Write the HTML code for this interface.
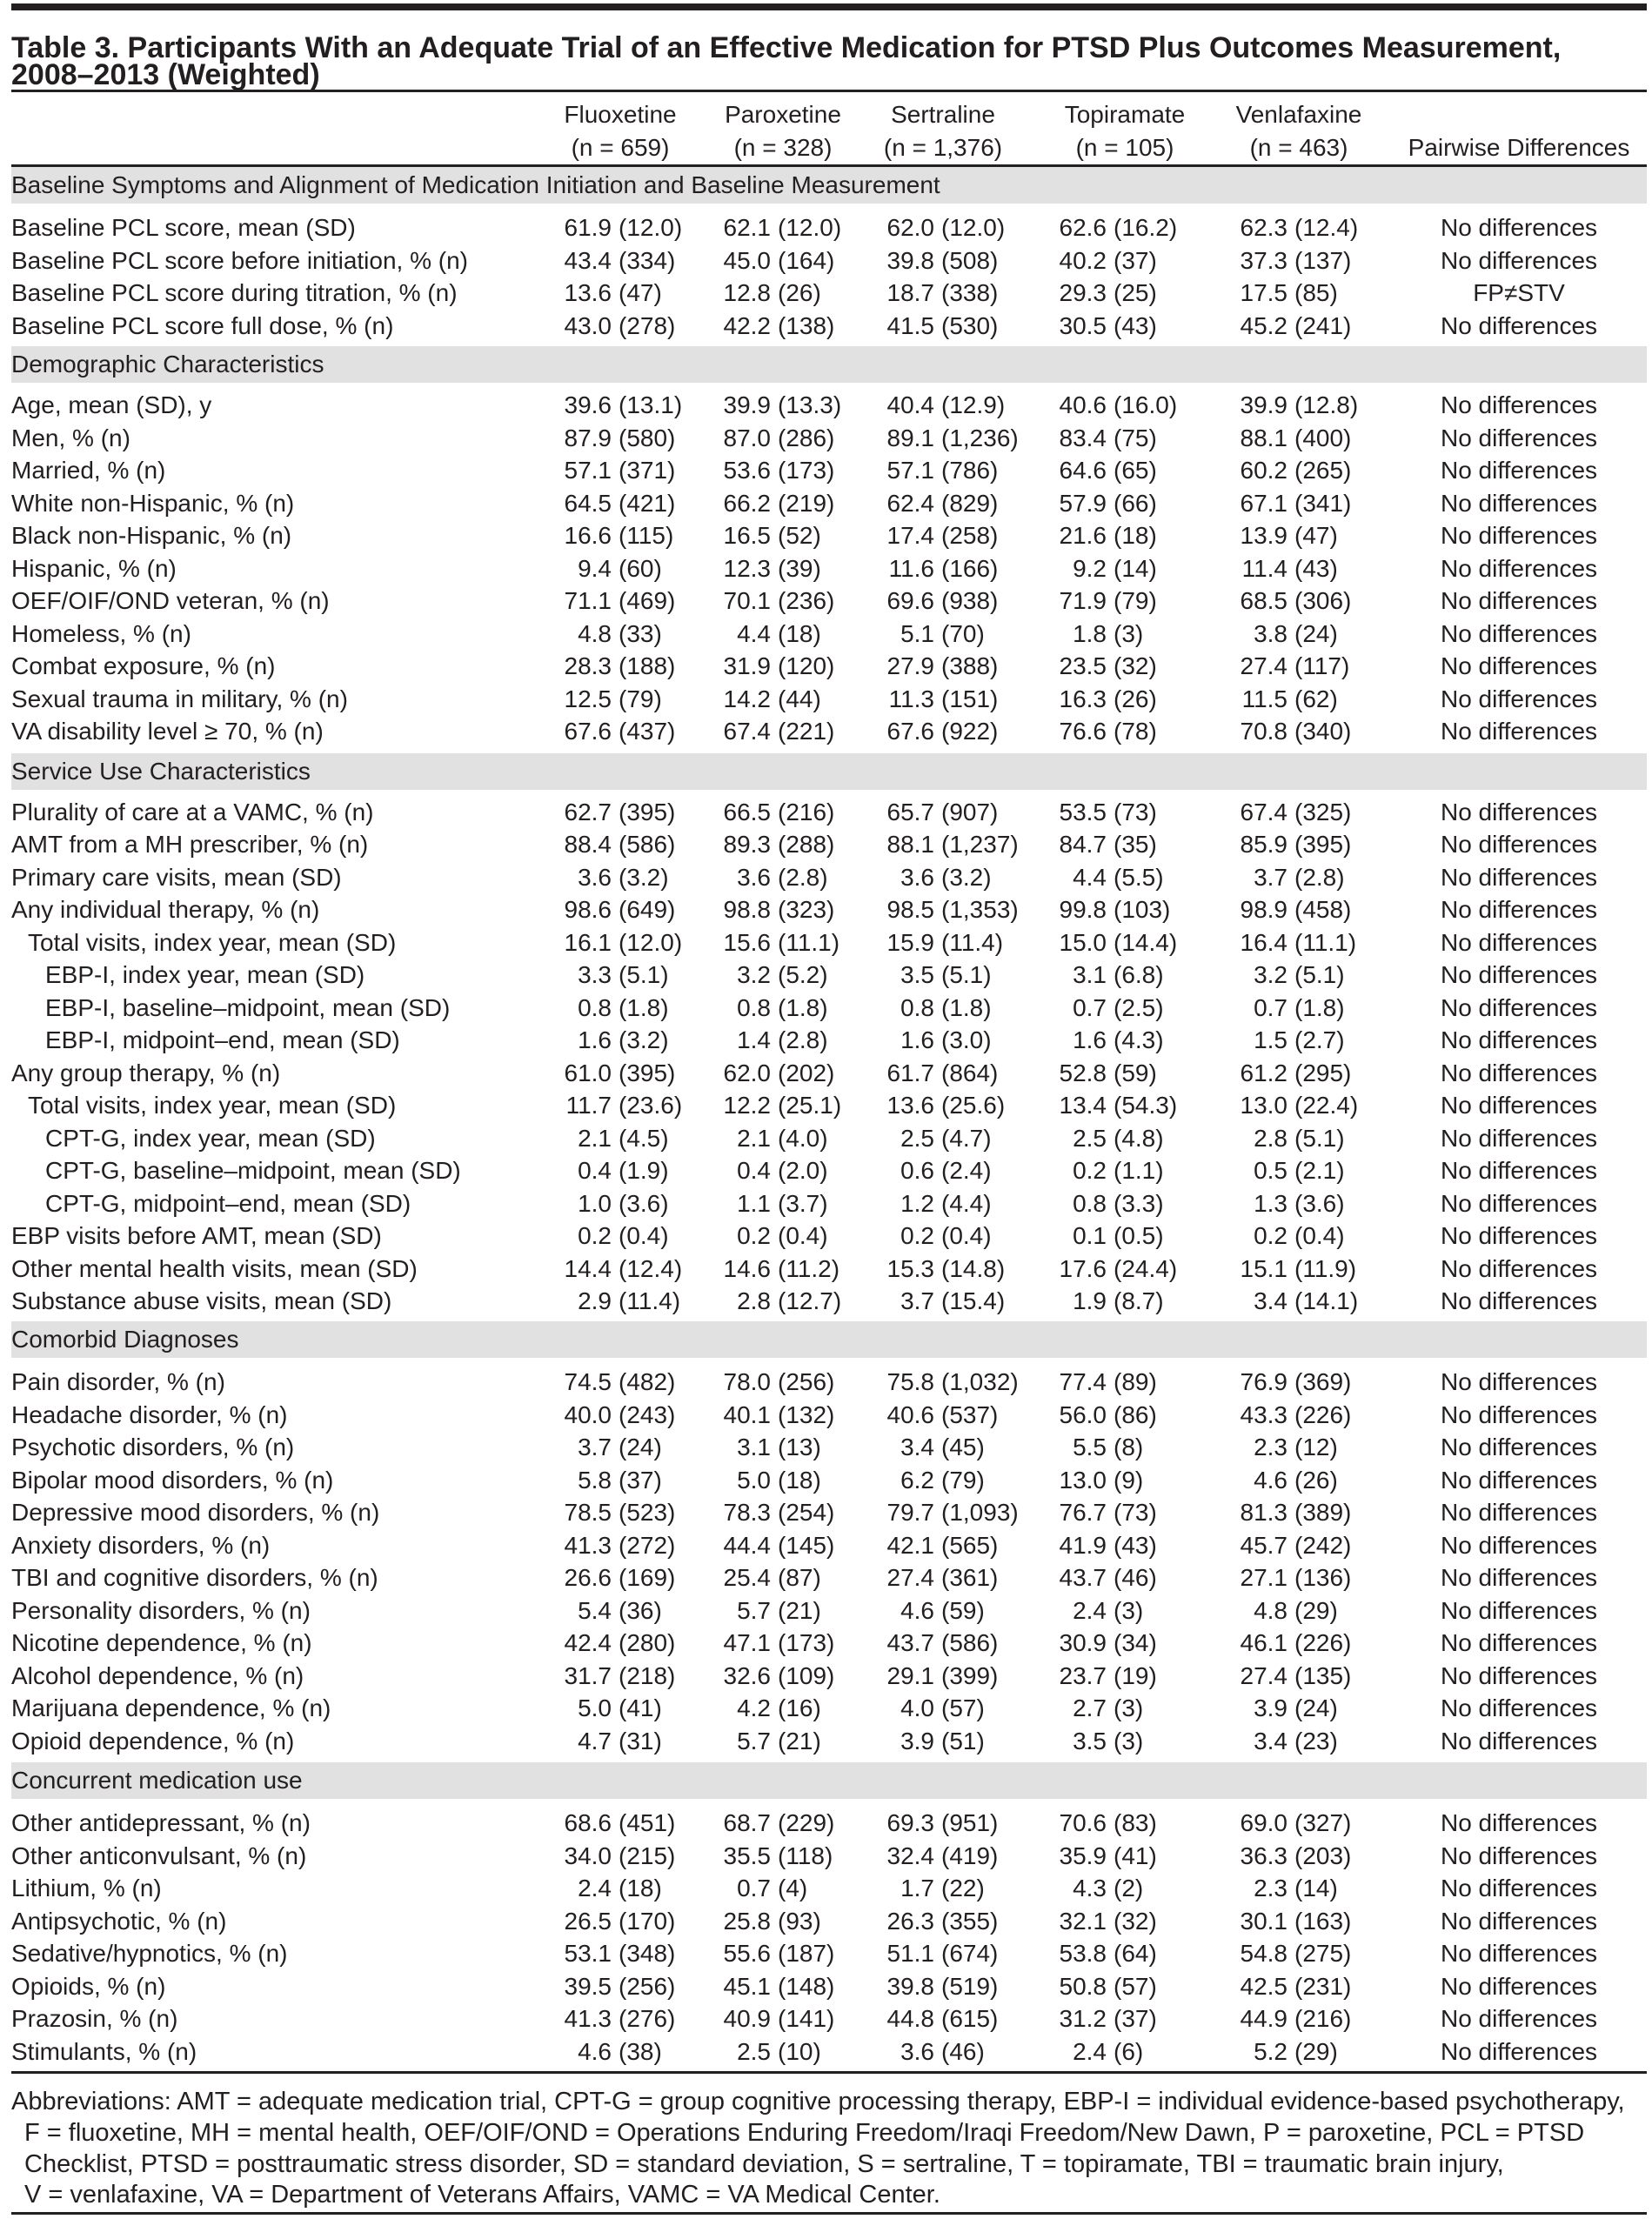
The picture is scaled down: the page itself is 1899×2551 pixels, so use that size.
<!DOCTYPE html>
<html><head><meta charset="utf-8"><style>
*{margin:0;padding:0;box-sizing:border-box}
body{width:1899px;height:2551px;background:#fff;position:relative;overflow:hidden;font-family:"Liberation Sans",sans-serif;color:#231f20;font-size:28px}
.t{position:absolute;left:13px;font-weight:bold;font-size:34px;line-height:36px;white-space:nowrap}
.rule{position:absolute;left:13px;width:1880px;background:#231f20}
.band{position:absolute;left:13px;width:1880px;height:42px;background:#e1e1e1;line-height:42px;white-space:nowrap}
.r{position:absolute;left:0;width:1899px;height:38px;line-height:38px}
.r span{position:absolute;white-space:nowrap;top:0}
.l{left:13px}.i1{left:32px}.i2{left:52px}
.n1{right:1196px}.p1{left:711px}
.n2{right:1013px}.p2{left:894px}
.n3{right:825px}.p3{left:1082px}
.n4{right:627px}.p4{left:1280px}
.n5{right:419px}.p5{left:1488px}
.d{left:1596px;width:300px;text-align:center}
.h{position:absolute;height:38px;line-height:38px;text-align:center;width:300px;white-space:nowrap}
.f{position:absolute;left:13px;font-size:29px;line-height:36px;white-space:nowrap}
</style></head><body>
<div class="rule" style="top:4px;height:8px"></div>
<div class="t" style="top:37px">Table 3. Participants With an Adequate Trial of an Effective Medication for PTSD Plus Outcomes Measurement,</div>
<div class="t" style="top:68px">2008–2013 (Weighted)</div>
<div class="rule" style="top:103px;height:3px"></div>
<div class="h" style="left:563px;top:113px">Fluoxetine</div><div class="h" style="left:563px;top:151px">(n = 659)</div>
<div class="h" style="left:750px;top:113px">Paroxetine</div><div class="h" style="left:750px;top:151px">(n = 328)</div>
<div class="h" style="left:934px;top:113px">Sertraline</div><div class="h" style="left:934px;top:151px">(n = 1,376)</div>
<div class="h" style="left:1143px;top:113px">Topiramate</div><div class="h" style="left:1143px;top:151px">(n = 105)</div>
<div class="h" style="left:1343px;top:113px">Venlafaxine</div><div class="h" style="left:1343px;top:151px">(n = 463)</div>
<div class="h" style="left:1596px;top:151px">Pairwise Differences</div>
<div class="rule" style="top:189px;height:3px"></div>

<div class="band" style="top:192px">Baseline Symptoms and Alignment of Medication Initiation and Baseline Measurement</div>
<div class="r" style="top:243px"><span class="l">Baseline PCL score, mean (SD)</span><span class="n1">61.9</span><span class="p1">(12.0)</span><span class="n2">62.1</span><span class="p2">(12.0)</span><span class="n3">62.0</span><span class="p3">(12.0)</span><span class="n4">62.6</span><span class="p4">(16.2)</span><span class="n5">62.3</span><span class="p5">(12.4)</span><span class="d">No differences</span></div>
<div class="r" style="top:281px"><span class="l">Baseline PCL score before initiation, % (n)</span><span class="n1">43.4</span><span class="p1">(334)</span><span class="n2">45.0</span><span class="p2">(164)</span><span class="n3">39.8</span><span class="p3">(508)</span><span class="n4">40.2</span><span class="p4">(37)</span><span class="n5">37.3</span><span class="p5">(137)</span><span class="d">No differences</span></div>
<div class="r" style="top:318px"><span class="l">Baseline PCL score during titration, % (n)</span><span class="n1">13.6</span><span class="p1">(47)</span><span class="n2">12.8</span><span class="p2">(26)</span><span class="n3">18.7</span><span class="p3">(338)</span><span class="n4">29.3</span><span class="p4">(25)</span><span class="n5">17.5</span><span class="p5">(85)</span><span class="d">FP≠STV</span></div>
<div class="r" style="top:356px"><span class="l">Baseline PCL score full dose, % (n)</span><span class="n1">43.0</span><span class="p1">(278)</span><span class="n2">42.2</span><span class="p2">(138)</span><span class="n3">41.5</span><span class="p3">(530)</span><span class="n4">30.5</span><span class="p4">(43)</span><span class="n5">45.2</span><span class="p5">(241)</span><span class="d">No differences</span></div>

<div class="band" style="top:398px">Demographic Characteristics</div>
<div class="r" style="top:447px"><span class="l">Age, mean (SD), y</span><span class="n1">39.6</span><span class="p1">(13.1)</span><span class="n2">39.9</span><span class="p2">(13.3)</span><span class="n3">40.4</span><span class="p3">(12.9)</span><span class="n4">40.6</span><span class="p4">(16.0)</span><span class="n5">39.9</span><span class="p5">(12.8)</span><span class="d">No differences</span></div>
<div class="r" style="top:485px"><span class="l">Men, % (n)</span><span class="n1">87.9</span><span class="p1">(580)</span><span class="n2">87.0</span><span class="p2">(286)</span><span class="n3">89.1</span><span class="p3">(1,236)</span><span class="n4">83.4</span><span class="p4">(75)</span><span class="n5">88.1</span><span class="p5">(400)</span><span class="d">No differences</span></div>
<div class="r" style="top:522px"><span class="l">Married, % (n)</span><span class="n1">57.1</span><span class="p1">(371)</span><span class="n2">53.6</span><span class="p2">(173)</span><span class="n3">57.1</span><span class="p3">(786)</span><span class="n4">64.6</span><span class="p4">(65)</span><span class="n5">60.2</span><span class="p5">(265)</span><span class="d">No differences</span></div>
<div class="r" style="top:560px"><span class="l">White non-Hispanic, % (n)</span><span class="n1">64.5</span><span class="p1">(421)</span><span class="n2">66.2</span><span class="p2">(219)</span><span class="n3">62.4</span><span class="p3">(829)</span><span class="n4">57.9</span><span class="p4">(66)</span><span class="n5">67.1</span><span class="p5">(341)</span><span class="d">No differences</span></div>
<div class="r" style="top:597px"><span class="l">Black non-Hispanic, % (n)</span><span class="n1">16.6</span><span class="p1">(115)</span><span class="n2">16.5</span><span class="p2">(52)</span><span class="n3">17.4</span><span class="p3">(258)</span><span class="n4">21.6</span><span class="p4">(18)</span><span class="n5">13.9</span><span class="p5">(47)</span><span class="d">No differences</span></div>
<div class="r" style="top:635px"><span class="l">Hispanic, % (n)</span><span class="n1">9.4</span><span class="p1">(60)</span><span class="n2">12.3</span><span class="p2">(39)</span><span class="n3">11.6</span><span class="p3">(166)</span><span class="n4">9.2</span><span class="p4">(14)</span><span class="n5">11.4</span><span class="p5">(43)</span><span class="d">No differences</span></div>
<div class="r" style="top:672px"><span class="l">OEF/OIF/OND veteran, % (n)</span><span class="n1">71.1</span><span class="p1">(469)</span><span class="n2">70.1</span><span class="p2">(236)</span><span class="n3">69.6</span><span class="p3">(938)</span><span class="n4">71.9</span><span class="p4">(79)</span><span class="n5">68.5</span><span class="p5">(306)</span><span class="d">No differences</span></div>
<div class="r" style="top:710px"><span class="l">Homeless, % (n)</span><span class="n1">4.8</span><span class="p1">(33)</span><span class="n2">4.4</span><span class="p2">(18)</span><span class="n3">5.1</span><span class="p3">(70)</span><span class="n4">1.8</span><span class="p4">(3)</span><span class="n5">3.8</span><span class="p5">(24)</span><span class="d">No differences</span></div>
<div class="r" style="top:747px"><span class="l">Combat exposure, % (n)</span><span class="n1">28.3</span><span class="p1">(188)</span><span class="n2">31.9</span><span class="p2">(120)</span><span class="n3">27.9</span><span class="p3">(388)</span><span class="n4">23.5</span><span class="p4">(32)</span><span class="n5">27.4</span><span class="p5">(117)</span><span class="d">No differences</span></div>
<div class="r" style="top:785px"><span class="l">Sexual trauma in military, % (n)</span><span class="n1">12.5</span><span class="p1">(79)</span><span class="n2">14.2</span><span class="p2">(44)</span><span class="n3">11.3</span><span class="p3">(151)</span><span class="n4">16.3</span><span class="p4">(26)</span><span class="n5">11.5</span><span class="p5">(62)</span><span class="d">No differences</span></div>
<div class="r" style="top:822px"><span class="l">VA disability level ≥ 70, % (n)</span><span class="n1">67.6</span><span class="p1">(437)</span><span class="n2">67.4</span><span class="p2">(221)</span><span class="n3">67.6</span><span class="p3">(922)</span><span class="n4">76.6</span><span class="p4">(78)</span><span class="n5">70.8</span><span class="p5">(340)</span><span class="d">No differences</span></div>

<div class="band" style="top:866px">Service Use Characteristics</div>
<div class="r" style="top:915px"><span class="l">Plurality of care at a VAMC, % (n)</span><span class="n1">62.7</span><span class="p1">(395)</span><span class="n2">66.5</span><span class="p2">(216)</span><span class="n3">65.7</span><span class="p3">(907)</span><span class="n4">53.5</span><span class="p4">(73)</span><span class="n5">67.4</span><span class="p5">(325)</span><span class="d">No differences</span></div>
<div class="r" style="top:952px"><span class="l">AMT from a MH prescriber, % (n)</span><span class="n1">88.4</span><span class="p1">(586)</span><span class="n2">89.3</span><span class="p2">(288)</span><span class="n3">88.1</span><span class="p3">(1,237)</span><span class="n4">84.7</span><span class="p4">(35)</span><span class="n5">85.9</span><span class="p5">(395)</span><span class="d">No differences</span></div>
<div class="r" style="top:990px"><span class="l">Primary care visits, mean (SD)</span><span class="n1">3.6</span><span class="p1">(3.2)</span><span class="n2">3.6</span><span class="p2">(2.8)</span><span class="n3">3.6</span><span class="p3">(3.2)</span><span class="n4">4.4</span><span class="p4">(5.5)</span><span class="n5">3.7</span><span class="p5">(2.8)</span><span class="d">No differences</span></div>
<div class="r" style="top:1027px"><span class="l">Any individual therapy, % (n)</span><span class="n1">98.6</span><span class="p1">(649)</span><span class="n2">98.8</span><span class="p2">(323)</span><span class="n3">98.5</span><span class="p3">(1,353)</span><span class="n4">99.8</span><span class="p4">(103)</span><span class="n5">98.9</span><span class="p5">(458)</span><span class="d">No differences</span></div>
<div class="r" style="top:1065px"><span class="i1">Total visits, index year, mean (SD)</span><span class="n1">16.1</span><span class="p1">(12.0)</span><span class="n2">15.6</span><span class="p2">(11.1)</span><span class="n3">15.9</span><span class="p3">(11.4)</span><span class="n4">15.0</span><span class="p4">(14.4)</span><span class="n5">16.4</span><span class="p5">(11.1)</span><span class="d">No differences</span></div>
<div class="r" style="top:1102px"><span class="i2">EBP-I, index year, mean (SD)</span><span class="n1">3.3</span><span class="p1">(5.1)</span><span class="n2">3.2</span><span class="p2">(5.2)</span><span class="n3">3.5</span><span class="p3">(5.1)</span><span class="n4">3.1</span><span class="p4">(6.8)</span><span class="n5">3.2</span><span class="p5">(5.1)</span><span class="d">No differences</span></div>
<div class="r" style="top:1140px"><span class="i2">EBP-I, baseline–midpoint, mean (SD)</span><span class="n1">0.8</span><span class="p1">(1.8)</span><span class="n2">0.8</span><span class="p2">(1.8)</span><span class="n3">0.8</span><span class="p3">(1.8)</span><span class="n4">0.7</span><span class="p4">(2.5)</span><span class="n5">0.7</span><span class="p5">(1.8)</span><span class="d">No differences</span></div>
<div class="r" style="top:1177px"><span class="i2">EBP-I, midpoint–end, mean (SD)</span><span class="n1">1.6</span><span class="p1">(3.2)</span><span class="n2">1.4</span><span class="p2">(2.8)</span><span class="n3">1.6</span><span class="p3">(3.0)</span><span class="n4">1.6</span><span class="p4">(4.3)</span><span class="n5">1.5</span><span class="p5">(2.7)</span><span class="d">No differences</span></div>
<div class="r" style="top:1215px"><span class="l">Any group therapy, % (n)</span><span class="n1">61.0</span><span class="p1">(395)</span><span class="n2">62.0</span><span class="p2">(202)</span><span class="n3">61.7</span><span class="p3">(864)</span><span class="n4">52.8</span><span class="p4">(59)</span><span class="n5">61.2</span><span class="p5">(295)</span><span class="d">No differences</span></div>
<div class="r" style="top:1252px"><span class="i1">Total visits, index year, mean (SD)</span><span class="n1">11.7</span><span class="p1">(23.6)</span><span class="n2">12.2</span><span class="p2">(25.1)</span><span class="n3">13.6</span><span class="p3">(25.6)</span><span class="n4">13.4</span><span class="p4">(54.3)</span><span class="n5">13.0</span><span class="p5">(22.4)</span><span class="d">No differences</span></div>
<div class="r" style="top:1290px"><span class="i2">CPT-G, index year, mean (SD)</span><span class="n1">2.1</span><span class="p1">(4.5)</span><span class="n2">2.1</span><span class="p2">(4.0)</span><span class="n3">2.5</span><span class="p3">(4.7)</span><span class="n4">2.5</span><span class="p4">(4.8)</span><span class="n5">2.8</span><span class="p5">(5.1)</span><span class="d">No differences</span></div>
<div class="r" style="top:1327px"><span class="i2">CPT-G, baseline–midpoint, mean (SD)</span><span class="n1">0.4</span><span class="p1">(1.9)</span><span class="n2">0.4</span><span class="p2">(2.0)</span><span class="n3">0.6</span><span class="p3">(2.4)</span><span class="n4">0.2</span><span class="p4">(1.1)</span><span class="n5">0.5</span><span class="p5">(2.1)</span><span class="d">No differences</span></div>
<div class="r" style="top:1365px"><span class="i2">CPT-G, midpoint–end, mean (SD)</span><span class="n1">1.0</span><span class="p1">(3.6)</span><span class="n2">1.1</span><span class="p2">(3.7)</span><span class="n3">1.2</span><span class="p3">(4.4)</span><span class="n4">0.8</span><span class="p4">(3.3)</span><span class="n5">1.3</span><span class="p5">(3.6)</span><span class="d">No differences</span></div>
<div class="r" style="top:1402px"><span class="l">EBP visits before AMT, mean (SD)</span><span class="n1">0.2</span><span class="p1">(0.4)</span><span class="n2">0.2</span><span class="p2">(0.4)</span><span class="n3">0.2</span><span class="p3">(0.4)</span><span class="n4">0.1</span><span class="p4">(0.5)</span><span class="n5">0.2</span><span class="p5">(0.4)</span><span class="d">No differences</span></div>
<div class="r" style="top:1440px"><span class="l">Other mental health visits, mean (SD)</span><span class="n1">14.4</span><span class="p1">(12.4)</span><span class="n2">14.6</span><span class="p2">(11.2)</span><span class="n3">15.3</span><span class="p3">(14.8)</span><span class="n4">17.6</span><span class="p4">(24.4)</span><span class="n5">15.1</span><span class="p5">(11.9)</span><span class="d">No differences</span></div>
<div class="r" style="top:1477px"><span class="l">Substance abuse visits, mean (SD)</span><span class="n1">2.9</span><span class="p1">(11.4)</span><span class="n2">2.8</span><span class="p2">(12.7)</span><span class="n3">3.7</span><span class="p3">(15.4)</span><span class="n4">1.9</span><span class="p4">(8.7)</span><span class="n5">3.4</span><span class="p5">(14.1)</span><span class="d">No differences</span></div>

<div class="band" style="top:1519px">Comorbid Diagnoses</div>
<div class="r" style="top:1570px"><span class="l">Pain disorder, % (n)</span><span class="n1">74.5</span><span class="p1">(482)</span><span class="n2">78.0</span><span class="p2">(256)</span><span class="n3">75.8</span><span class="p3">(1,032)</span><span class="n4">77.4</span><span class="p4">(89)</span><span class="n5">76.9</span><span class="p5">(369)</span><span class="d">No differences</span></div>
<div class="r" style="top:1608px"><span class="l">Headache disorder, % (n)</span><span class="n1">40.0</span><span class="p1">(243)</span><span class="n2">40.1</span><span class="p2">(132)</span><span class="n3">40.6</span><span class="p3">(537)</span><span class="n4">56.0</span><span class="p4">(86)</span><span class="n5">43.3</span><span class="p5">(226)</span><span class="d">No differences</span></div>
<div class="r" style="top:1645px"><span class="l">Psychotic disorders, % (n)</span><span class="n1">3.7</span><span class="p1">(24)</span><span class="n2">3.1</span><span class="p2">(13)</span><span class="n3">3.4</span><span class="p3">(45)</span><span class="n4">5.5</span><span class="p4">(8)</span><span class="n5">2.3</span><span class="p5">(12)</span><span class="d">No differences</span></div>
<div class="r" style="top:1683px"><span class="l">Bipolar mood disorders, % (n)</span><span class="n1">5.8</span><span class="p1">(37)</span><span class="n2">5.0</span><span class="p2">(18)</span><span class="n3">6.2</span><span class="p3">(79)</span><span class="n4">13.0</span><span class="p4">(9)</span><span class="n5">4.6</span><span class="p5">(26)</span><span class="d">No differences</span></div>
<div class="r" style="top:1720px"><span class="l">Depressive mood disorders, % (n)</span><span class="n1">78.5</span><span class="p1">(523)</span><span class="n2">78.3</span><span class="p2">(254)</span><span class="n3">79.7</span><span class="p3">(1,093)</span><span class="n4">76.7</span><span class="p4">(73)</span><span class="n5">81.3</span><span class="p5">(389)</span><span class="d">No differences</span></div>
<div class="r" style="top:1758px"><span class="l">Anxiety disorders, % (n)</span><span class="n1">41.3</span><span class="p1">(272)</span><span class="n2">44.4</span><span class="p2">(145)</span><span class="n3">42.1</span><span class="p3">(565)</span><span class="n4">41.9</span><span class="p4">(43)</span><span class="n5">45.7</span><span class="p5">(242)</span><span class="d">No differences</span></div>
<div class="r" style="top:1795px"><span class="l">TBI and cognitive disorders, % (n)</span><span class="n1">26.6</span><span class="p1">(169)</span><span class="n2">25.4</span><span class="p2">(87)</span><span class="n3">27.4</span><span class="p3">(361)</span><span class="n4">43.7</span><span class="p4">(46)</span><span class="n5">27.1</span><span class="p5">(136)</span><span class="d">No differences</span></div>
<div class="r" style="top:1833px"><span class="l">Personality disorders, % (n)</span><span class="n1">5.4</span><span class="p1">(36)</span><span class="n2">5.7</span><span class="p2">(21)</span><span class="n3">4.6</span><span class="p3">(59)</span><span class="n4">2.4</span><span class="p4">(3)</span><span class="n5">4.8</span><span class="p5">(29)</span><span class="d">No differences</span></div>
<div class="r" style="top:1870px"><span class="l">Nicotine dependence, % (n)</span><span class="n1">42.4</span><span class="p1">(280)</span><span class="n2">47.1</span><span class="p2">(173)</span><span class="n3">43.7</span><span class="p3">(586)</span><span class="n4">30.9</span><span class="p4">(34)</span><span class="n5">46.1</span><span class="p5">(226)</span><span class="d">No differences</span></div>
<div class="r" style="top:1908px"><span class="l">Alcohol dependence, % (n)</span><span class="n1">31.7</span><span class="p1">(218)</span><span class="n2">32.6</span><span class="p2">(109)</span><span class="n3">29.1</span><span class="p3">(399)</span><span class="n4">23.7</span><span class="p4">(19)</span><span class="n5">27.4</span><span class="p5">(135)</span><span class="d">No differences</span></div>
<div class="r" style="top:1945px"><span class="l">Marijuana dependence, % (n)</span><span class="n1">5.0</span><span class="p1">(41)</span><span class="n2">4.2</span><span class="p2">(16)</span><span class="n3">4.0</span><span class="p3">(57)</span><span class="n4">2.7</span><span class="p4">(3)</span><span class="n5">3.9</span><span class="p5">(24)</span><span class="d">No differences</span></div>
<div class="r" style="top:1983px"><span class="l">Opioid dependence, % (n)</span><span class="n1">4.7</span><span class="p1">(31)</span><span class="n2">5.7</span><span class="p2">(21)</span><span class="n3">3.9</span><span class="p3">(51)</span><span class="n4">3.5</span><span class="p4">(3)</span><span class="n5">3.4</span><span class="p5">(23)</span><span class="d">No differences</span></div>

<div class="band" style="top:2026px">Concurrent medication use</div>
<div class="r" style="top:2077px"><span class="l">Other antidepressant, % (n)</span><span class="n1">68.6</span><span class="p1">(451)</span><span class="n2">68.7</span><span class="p2">(229)</span><span class="n3">69.3</span><span class="p3">(951)</span><span class="n4">70.6</span><span class="p4">(83)</span><span class="n5">69.0</span><span class="p5">(327)</span><span class="d">No differences</span></div>
<div class="r" style="top:2115px"><span class="l">Other anticonvulsant, % (n)</span><span class="n1">34.0</span><span class="p1">(215)</span><span class="n2">35.5</span><span class="p2">(118)</span><span class="n3">32.4</span><span class="p3">(419)</span><span class="n4">35.9</span><span class="p4">(41)</span><span class="n5">36.3</span><span class="p5">(203)</span><span class="d">No differences</span></div>
<div class="r" style="top:2152px"><span class="l">Lithium, % (n)</span><span class="n1">2.4</span><span class="p1">(18)</span><span class="n2">0.7</span><span class="p2">(4)</span><span class="n3">1.7</span><span class="p3">(22)</span><span class="n4">4.3</span><span class="p4">(2)</span><span class="n5">2.3</span><span class="p5">(14)</span><span class="d">No differences</span></div>
<div class="r" style="top:2190px"><span class="l">Antipsychotic, % (n)</span><span class="n1">26.5</span><span class="p1">(170)</span><span class="n2">25.8</span><span class="p2">(93)</span><span class="n3">26.3</span><span class="p3">(355)</span><span class="n4">32.1</span><span class="p4">(32)</span><span class="n5">30.1</span><span class="p5">(163)</span><span class="d">No differences</span></div>
<div class="r" style="top:2227px"><span class="l">Sedative/hypnotics, % (n)</span><span class="n1">53.1</span><span class="p1">(348)</span><span class="n2">55.6</span><span class="p2">(187)</span><span class="n3">51.1</span><span class="p3">(674)</span><span class="n4">53.8</span><span class="p4">(64)</span><span class="n5">54.8</span><span class="p5">(275)</span><span class="d">No differences</span></div>
<div class="r" style="top:2265px"><span class="l">Opioids, % (n)</span><span class="n1">39.5</span><span class="p1">(256)</span><span class="n2">45.1</span><span class="p2">(148)</span><span class="n3">39.8</span><span class="p3">(519)</span><span class="n4">50.8</span><span class="p4">(57)</span><span class="n5">42.5</span><span class="p5">(231)</span><span class="d">No differences</span></div>
<div class="r" style="top:2302px"><span class="l">Prazosin, % (n)</span><span class="n1">41.3</span><span class="p1">(276)</span><span class="n2">40.9</span><span class="p2">(141)</span><span class="n3">44.8</span><span class="p3">(615)</span><span class="n4">31.2</span><span class="p4">(37)</span><span class="n5">44.9</span><span class="p5">(216)</span><span class="d">No differences</span></div>
<div class="r" style="top:2340px"><span class="l">Stimulants, % (n)</span><span class="n1">4.6</span><span class="p1">(38)</span><span class="n2">2.5</span><span class="p2">(10)</span><span class="n3">3.6</span><span class="p3">(46)</span><span class="n4">2.4</span><span class="p4">(6)</span><span class="n5">5.2</span><span class="p5">(29)</span><span class="d">No differences</span></div>

<div class="rule" style="top:2381px;height:3px"></div>
<div class="f" style="top:2398px">Abbreviations: AMT = adequate medication trial, CPT-G = group cognitive processing therapy, EBP-I = individual evidence-based psychotherapy,</div>
<div class="f" style="top:2434px;left:28px">F = fluoxetine, MH = mental health, OEF/OIF/OND = Operations Enduring Freedom/Iraqi Freedom/New Dawn, P = paroxetine, PCL = PTSD</div>
<div class="f" style="top:2470px;left:28px">Checklist, PTSD = posttraumatic stress disorder, SD = standard deviation, S = sertraline, T = topiramate, TBI = traumatic brain injury,</div>
<div class="f" style="top:2505px;left:28px">V = venlafaxine, VA =  Department of Veterans Affairs,  VAMC = VA Medical Center.</div>
<div class="rule" style="top:2543px;height:3px"></div>
</body></html>
